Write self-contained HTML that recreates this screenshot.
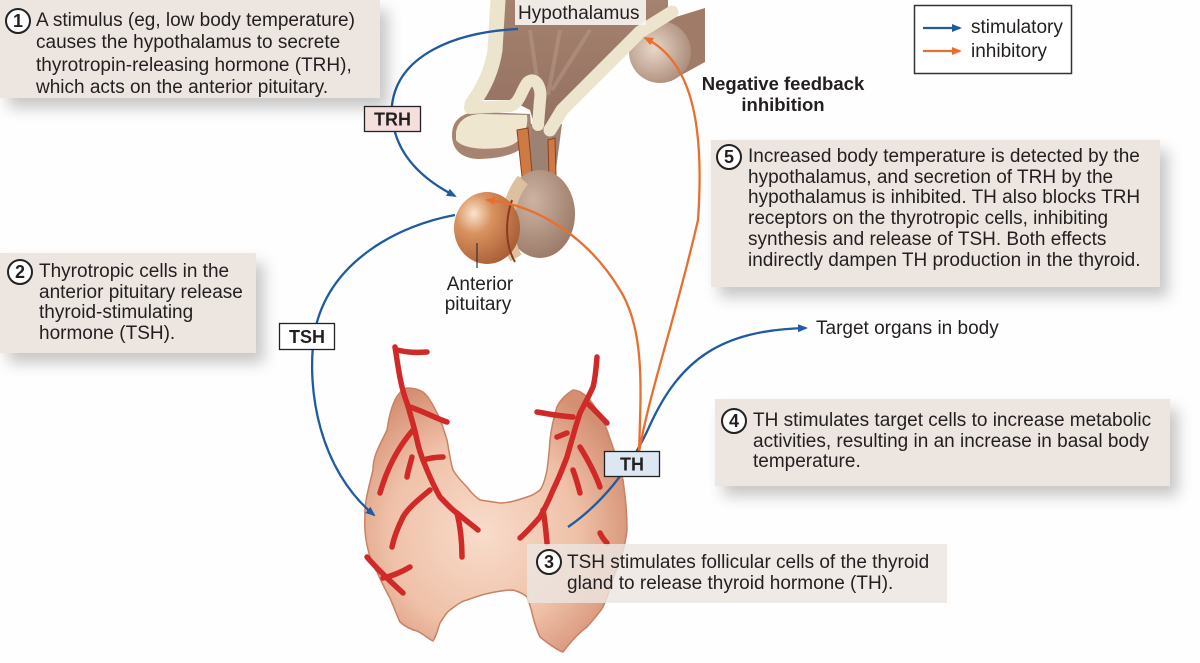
<!DOCTYPE html>
<html><head><meta charset="utf-8">
<style>
html,body{margin:0;padding:0;background:#fff;}
#wrap{position:relative;width:1200px;height:663px;overflow:hidden;background:#fefefe;font-family:"Liberation Sans",Arial,sans-serif;color:#231f20;}
.box{position:absolute;background:#ece5e0;box-shadow:8px 10px 14px rgba(0,0,0,0.22);}
.txt{position:absolute;white-space:nowrap;font-size:19px;}
.num{position:absolute;width:22px;height:22px;border:2px solid #222;border-radius:50%;background:#fff;font-weight:bold;font-size:18px;line-height:22px;text-align:center;}
svg{position:absolute;left:0;top:0;}
</style></head><body>
<div id="wrap">
<svg width="1200" height="663" viewBox="0 0 1200 663">
<defs>
<radialGradient id="thy" cx="0.45" cy="0.55" r="0.6">
<stop offset="0" stop-color="#f8dccb"/><stop offset="0.6" stop-color="#efc1a8"/><stop offset="1" stop-color="#d48f73"/>
</radialGradient>
<radialGradient id="ant" cx="0.3" cy="0.3" r="0.8">
<stop offset="0" stop-color="#fae3cf"/><stop offset="0.35" stop-color="#d9925f"/><stop offset="1" stop-color="#a65a33"/>
</radialGradient>
<radialGradient id="post" cx="0.4" cy="0.35" r="0.75">
<stop offset="0" stop-color="#cdb3a2"/><stop offset="1" stop-color="#967463"/>
</radialGradient>
<radialGradient id="bulge" cx="0.4" cy="0.45" r="0.7">
<stop offset="0" stop-color="#e9d7c9"/><stop offset="1" stop-color="#a4826f"/>
</radialGradient>
<linearGradient id="hyp" x1="0" y1="0" x2="0" y2="1">
<stop offset="0" stop-color="#a58270"/><stop offset="1" stop-color="#93705f"/>
</linearGradient>
<marker id="ab" markerWidth="10" markerHeight="8" refX="8" refY="4" orient="auto" markerUnits="userSpaceOnUse">
<path d="M0,0 L10,4 L0,8 Z" fill="#1f5b9e"/></marker>
<marker id="ao" markerWidth="10" markerHeight="8" refX="8" refY="4" orient="auto" markerUnits="userSpaceOnUse">
<path d="M0,0 L10,4 L0,8 Z" fill="#e86f2d"/></marker>
</defs>

<!-- Hypothalamus -->
<path d="M640,28 L705,8 L705,62 L676,78 Z" fill="#a07b68"/>
<circle cx="660" cy="52" r="31" fill="url(#bulge)"/>
<path d="M500,0 L668,0 L668,14 L640,30 L556,122 L548,132 L535,128 L530,110 L510,100 L482,100 L490,60 Z" fill="url(#hyp)"/>
<path d="M530,30 L540,100 M560,30 L548,95 M590,30 L552,90" stroke="#b8998a" stroke-width="4" opacity="0.5" fill="none"/>
<!-- stalk -->
<path d="M529,124 L562,124 L553,192 L526,194 Z" fill="#9c8272"/>
<!-- lobe -->
<path d="M452,135 C452,120 462,112 480,112 L530,114 L532,135 C526,150 510,158 480,159 C462,159 452,150 452,135 Z" fill="#a68471"/>
<path d="M456,132 C458,120 468,114 482,114 L527,115 C529,130 521,146 500,148 C480,150 462,148 456,140 Z" fill="#eee6cf"/>
<path d="M498,0 L495,50 C492,70 484,88 472,104" stroke="#ede4cd" stroke-width="15" fill="none" stroke-linecap="round"/>
<path d="M470,108 L510,106 C520,104 522,88 528,82 C536,76 542,88 540,100 L538,125" stroke="#ede4cd" stroke-width="12" fill="none" stroke-linecap="round" stroke-linejoin="round"/>
<path d="M672,12 L640,32 L562,110 L550,130" stroke="#ede4cd" stroke-width="13" fill="none" stroke-linecap="round"/>
<path d="M517,130 L528,128 L533,183 L523,186 Z" fill="#cf7a45" stroke="#8e3f1f" stroke-width="1"/>
<path d="M548,140 L555,138 L556,176 L549,178 Z" fill="#cf7a45" stroke="#8e3f1f" stroke-width="1"/>
<!-- pituitary -->
<ellipse cx="540" cy="214" rx="35" ry="44" fill="url(#post)"/>
<path d="M523,180 C506,200 503,236 516,258" stroke="#dcc09f" stroke-width="13" fill="none"/>
<ellipse cx="487" cy="228" rx="33" ry="36" fill="url(#ant)"/>
<path d="M512,200 C505,220 505,245 515,262" stroke="#8c3a20" stroke-width="2" fill="none"/>
<line x1="477" y1="243" x2="477" y2="268" stroke="#333" stroke-width="1.2"/>

<!-- Thyroid -->
<path d="M407,388 C395,392 390,410 387,430 C380,445 373,455 373,470 C368,490 364,505 365,517 C364,530 366,540 367,545 C370,560 375,570 377,572 C383,585 388,595 390,598 C395,610 398,618 400,622 C407,628 412,630 417,631 C425,635 430,640 433,641 C437,635 438,628 440,623 C445,615 447,612 450,610 C458,604 462,601 467,600 C478,596 485,594 490,593 C500,591 507,590 513,590 C520,592 524,594 527,597 C530,605 532,612 533,617 C536,628 538,633 540,637 C550,645 557,650 563,652 C572,640 580,632 587,627 C595,618 600,612 603,607 C607,598 609,592 610,587 C618,565 625,550 627,530 C627,510 625,495 623,480 C618,460 612,445 607,430 C600,415 593,402 587,397 C582,392 577,390 573,390 C565,395 560,400 557,407 C553,420 551,430 550,440 C549,455 548,463 547,470 C545,480 543,486 540,490 C535,494 531,496 527,497 C515,501 508,503 500,503 C493,502 487,501 480,500 C473,495 470,491 467,487 C460,480 456,475 453,470 C450,460 449,450 447,440 C444,430 441,420 437,413 C432,403 428,396 423,392 C418,389 412,388 407,388 Z" fill="url(#thy)" stroke="#c98166" stroke-width="1.5"/>
<g stroke="#d02a28" stroke-width="5.5" fill="none" stroke-linecap="round">
<path d="M395,347 C398,365 400,385 407,403 C412,420 415,430 417,440 C420,455 424,462 427,470 C432,482 436,490 440,497 C448,505 452,510 457,513 C465,520 472,525 478,530"/>
<path d="M397,350 C405,352 415,353 427,352"/>
<path d="M410,407 C425,412 435,418 447,422"/>
<path d="M423,460 C430,458 437,457 443,457"/>
<path d="M413,430 C400,445 388,465 380,493"/>
<path d="M430,490 C418,500 408,508 403,517 C398,527 394,537 392,547"/>
<path d="M457,513 C460,525 462,540 462,557"/>
<path d="M412,457 C410,465 408,470 407,477"/>
<path d="M367,557 C378,570 392,583 403,593"/>
<path d="M410,567 C400,573 392,576 383,578"/>
<path d="M597,357 C596,370 595,380 593,387 C588,398 584,405 580,413 C575,428 571,443 567,457 C562,470 558,480 553,490 C549,500 545,508 540,517 C533,525 527,532 520,538"/>
<path d="M537,412 C548,414 560,416 573,417"/>
<path d="M587,403 C595,410 600,416 607,423"/>
<path d="M557,437 C560,436 564,434 567,433"/>
<path d="M580,447 C588,460 595,473 600,487"/>
<path d="M573,470 C576,478 578,485 580,493"/>
<path d="M543,510 C545,520 546,532 547,543"/>
<path d="M600,533 C602,537 604,540 607,543"/>
</g>

<!-- Arrows -->
<g fill="none" stroke-width="2.3">
<path d="M518,29 C455,32 398,55 392,105 C390,150 420,178 455,196" stroke="#1f5b9e" marker-end="url(#ab)"/>
<path d="M455,215 C400,225 330,260 315,330 C305,390 320,470 374,515" stroke="#1f5b9e" marker-end="url(#ab)"/>
<path d="M568,527 C600,505 630,470 650,425 C680,360 720,330 806,328" stroke="#1f5b9e" marker-end="url(#ab)"/>
<path d="M639,452 C641,390 645,330 620,290 C590,240 540,205 487,200" stroke="#e86f2d" marker-end="url(#ao)"/>
<path d="M639,452 C650,390 675,320 698,220 C705,120 690,60 645,38" stroke="#e86f2d" marker-end="url(#ao)"/>
</g>

<!-- Hypothalamus label bg -->
<rect x="515" y="0" width="131" height="25" fill="#f8f5f2" opacity="0.9"/>
<text x="518" y="19" font-family="Liberation Sans, Arial, sans-serif" font-size="19" fill="#231f20">Hypothalamus</text>
<text x="480" y="290" font-family="Liberation Sans, Arial, sans-serif" font-size="19" fill="#231f20" text-anchor="middle">Anterior</text>
<text x="478" y="310" font-family="Liberation Sans, Arial, sans-serif" font-size="19" fill="#231f20" text-anchor="middle">pituitary</text>
<text x="783" y="90" font-family="Liberation Sans, Arial, sans-serif" font-size="18.5" font-weight="bold" fill="#231f20" text-anchor="middle">Negative feedback</text>
<text x="783" y="111" font-family="Liberation Sans, Arial, sans-serif" font-size="18.5" font-weight="bold" fill="#231f20" text-anchor="middle">inhibition</text>
<text x="816" y="334" font-family="Liberation Sans, Arial, sans-serif" font-size="19" fill="#231f20">Target organs in body</text>

<!-- Legend -->
<rect x="914.5" y="5.5" width="157" height="68" fill="#fff" stroke="#333" stroke-width="1.5"/>
<line x1="923" y1="28" x2="960" y2="28" stroke="#1f5b9e" stroke-width="2.3" marker-end="url(#ab)"/>
<line x1="923" y1="51" x2="960" y2="51" stroke="#e86f2d" stroke-width="2.3" marker-end="url(#ao)"/>
<text x="971" y="33" font-family="Liberation Sans, Arial, sans-serif" font-size="19" fill="#231f20">stimulatory</text>
<text x="971" y="57" font-family="Liberation Sans, Arial, sans-serif" font-size="19" fill="#231f20">inhibitory</text>
</svg>

<!-- Text boxes -->
<div class="box" style="left:0;top:0;width:380px;height:98px;"></div>
<div class="num" style="left:5px;top:8px;">1</div>
<div class="txt" style="left:36px;top:10px;line-height:22.3px;">A stimulus (eg, low body temperature)<br>causes the hypothalamus to secrete<br>thyrotropin-releasing hormone (TRH),<br>which acts on the anterior pituitary.</div>

<div class="box" style="left:0;top:253px;width:256px;height:100px;"></div>
<div class="num" style="left:7px;top:259px;">2</div>
<div class="txt" style="left:39px;top:262px;line-height:20.7px;">Thyrotropic cells in the<br>anterior pituitary release<br>thyroid-stimulating<br>hormone (TSH).</div>

<div class="box" style="left:711px;top:140px;width:449px;height:147px;"></div>
<div class="num" style="left:716px;top:144px;">5</div>
<div class="txt" style="left:748px;top:147px;line-height:20.7px;">Increased body temperature is detected by the<br>hypothalamus, and secretion of TRH by the<br>hypothalamus is inhibited. TH also blocks TRH<br>receptors on the thyrotropic cells, inhibiting<br>synthesis and release of TSH. Both effects<br>indirectly dampen TH production in the thyroid.</div>

<div class="box" style="left:715px;top:399px;width:455px;height:87px;"></div>
<div class="num" style="left:721px;top:408px;">4</div>
<div class="txt" style="left:753px;top:411px;line-height:20.5px;">TH stimulates target cells to increase metabolic<br>activities, resulting in an increase in basal body<br>temperature.</div>

<div class="box" style="left:527px;top:544px;width:420px;height:59px;background:rgba(236,229,224,0.82);box-shadow:none;"></div>
<div class="num" style="left:536px;top:549px;">3</div>
<div class="txt" style="left:567px;top:552px;line-height:21px;">TSH stimulates follicular cells of the thyroid<br>gland to release thyroid hormone (TH).</div>

<!-- Hormone labels -->
<svg width="1200" height="663" viewBox="0 0 1200 663" style="pointer-events:none">
<g font-family="Liberation Sans, Arial, sans-serif" font-size="18" font-weight="bold" fill="#231f20" text-anchor="middle">
<rect x="364.5" y="106.5" width="56" height="25" fill="#f5dfdc" stroke="#222" stroke-width="1.3"/>
<text x="392.5" y="125.5">TRH</text>
<rect x="279.5" y="323.5" width="55" height="26" fill="#fff" stroke="#222" stroke-width="1.3"/>
<text x="307" y="343">TSH</text>
<rect x="604.5" y="451.5" width="55" height="25" fill="#dde7f3" stroke="#222" stroke-width="1.3"/>
<text x="632" y="470.5">TH</text>
</g>
</svg>
</div>
</body></html>
